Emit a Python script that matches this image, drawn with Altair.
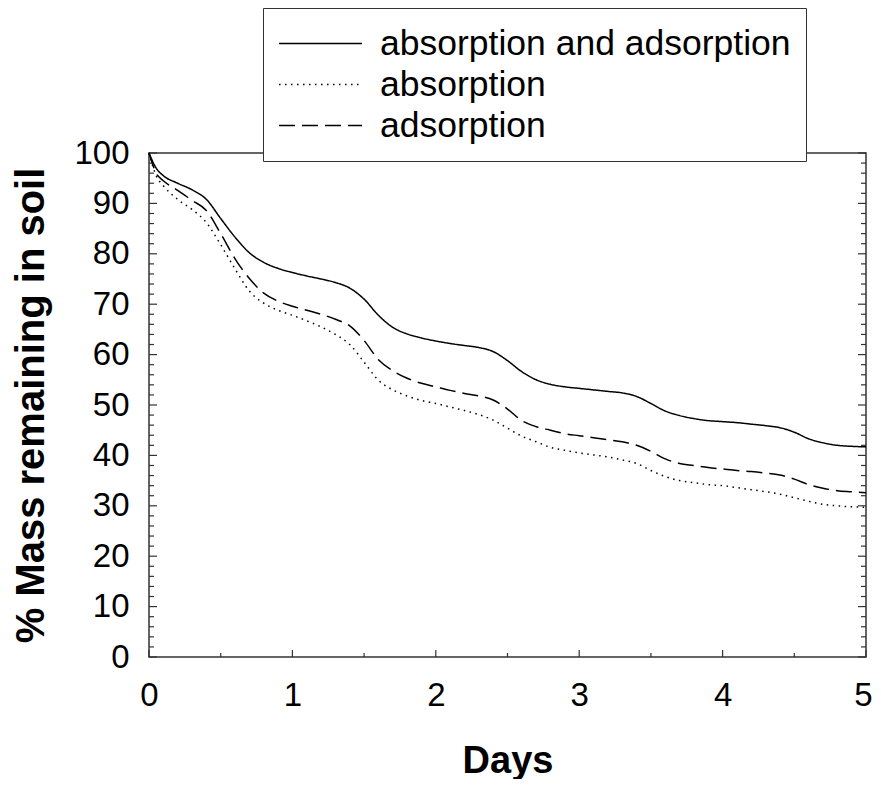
import altair as alt
import pandas as pd

days = [0, 0.05, 0.1, 0.2, 0.3, 0.4, 0.5, 0.6, 0.7, 0.8, 0.9,
        1.0, 1.1, 1.2, 1.3, 1.4, 1.5, 1.6, 1.7, 1.8, 1.9,
        2.0, 2.1, 2.2, 2.3, 2.4, 2.5, 2.6, 2.7, 2.8, 2.9,
        3.0, 3.1, 3.2, 3.3, 3.4, 3.5, 3.6, 3.7, 3.8, 3.9,
        4.0, 4.1, 4.2, 4.3, 4.4, 4.5, 4.6, 4.7, 4.8, 4.9, 5.0]

both = [100, 97.0, 95.5, 94.0, 92.7, 90.8, 87.0, 83.3, 80.2, 78.3, 77.1,
        76.3, 75.6, 75.0, 74.3, 73.2, 71.0, 67.8, 65.4, 64.1, 63.3,
        62.7, 62.2, 61.8, 61.4, 60.6, 58.8, 56.6, 55.0, 54.1, 53.6,
        53.3, 53.0, 52.7, 52.4, 51.7, 50.3, 48.8, 47.9, 47.3, 46.9,
        46.7, 46.5, 46.2, 45.9, 45.5, 44.6, 43.3, 42.5, 42.0, 41.8, 41.7]

absorption = [100, 95.5, 93.5, 90.8, 88.8, 86.2, 81.8, 77.0, 72.6, 70.2, 68.8,
              67.8, 66.7, 65.5, 64.0, 62.0, 58.5, 54.9, 53.0, 51.8, 50.9,
              50.3, 49.6, 48.9, 48.1, 47.0, 45.4, 43.8, 42.7, 41.6, 41.0,
              40.5, 40.1, 39.7, 39.1, 38.4, 37.0, 35.8, 35.0, 34.6, 34.2,
              34.0, 33.6, 33.2, 32.8, 32.3, 31.6, 30.9, 30.3, 30.0, 29.8, 29.7]

adsorption = [100, 96.0, 94.5, 92.6, 90.6, 88.6, 84.0, 79.0, 75.1, 72.2, 70.6,
              69.6, 68.8, 68.0, 67.0, 65.7, 62.8, 59.0, 56.8, 55.3, 54.3,
              53.6, 52.9, 52.3, 51.8, 51.0, 49.2, 46.9, 45.7, 45.0, 44.3,
              43.9, 43.5, 43.1, 42.7, 42.0, 40.8, 39.3, 38.4, 38.0, 37.6,
              37.3, 37.0, 36.8, 36.5, 36.1, 35.3, 34.2, 33.5, 33.0, 32.8, 32.6]

series_names = ["absorption and adsorption", "absorption", "adsorption"]
x_ticks = [0, 1, 2, 3, 4, 5]
y_ticks = [0, 10, 20, 30, 40, 50, 60, 70, 80, 90, 100]

W, H = 717, 504
XMAX, YMAX = 5, 100
FONT = "Liberation Sans"

rows = []
for name, vals in zip(series_names, [both, absorption, adsorption]):
    for d, v in zip(days, vals):
        rows.append({"day": d, "mass": v, "series": name})
df = pd.DataFrame(rows)

# inward tick marks (lengths in pixels converted to data units)
px_x = W / XMAX
px_y = H / YMAX
tick_rows = []
for v in range(0, 101, 2):
    L = 8 if v % 10 == 0 else 5
    tick_rows.append({"x": 0, "x2": L / px_x, "y": v, "y2": v})
    tick_rows.append({"x": XMAX, "x2": XMAX - L / px_x, "y": v, "y2": v})
for i in range(0, 11):
    v = i * 0.5
    L = 7 if i % 2 == 0 else 4
    tick_rows.append({"x": v, "x2": v, "y": 0, "y2": L / px_y})
ticks_df = pd.DataFrame(tick_rows)

xscale = alt.Scale(domain=[0, XMAX], nice=False, zero=False)
yscale = alt.Scale(domain=[0, YMAX], nice=False, zero=False)

x_axis = alt.Axis(values=x_ticks, title="Days", grid=False, ticks=False, domain=False,
                  labelFontSize=33, labelFont=FONT, labelColor="black", labelPadding=22,
                  labelOffset={"condition": {"test": "datum.value == 5", "value": -3}, "value": 0},
                  titleFontSize=38, titleFont=FONT, titleFontWeight="bold", titleColor="black",
                  titlePadding=30, format="d", labelFlush=False)
y_axis = alt.Axis(values=y_ticks, title="% Mass remaining in soil", grid=False, ticks=False,
                  domain=False, labelFontSize=33, labelFont=FONT, labelColor="black",
                  labelPadding=20, titleFontSize=40, titleFont=FONT, titleFontWeight="bold",
                  titleColor="black", titlePadding=22, labelFlush=False)

lines = alt.Chart(df).mark_line(color="black", strokeWidth=1.5, interpolate="monotone").encode(
    x=alt.X("day:Q", scale=xscale, axis=x_axis),
    y=alt.Y("mass:Q", scale=yscale, axis=y_axis),
    strokeDash=alt.StrokeDash(
        "series:N",
        scale=alt.Scale(domain=series_names, range=[[1, 0], [1.5, 4.5], [16, 7]]),
        legend=alt.Legend(orient="none", legendX=114, legendY=-145, title=None,
                          symbolType="stroke", symbolSize=6889, symbolStrokeWidth=1.5,
                          symbolStrokeColor="black", symbolOffset=0, clipHeight=41,
                          labelFontSize=35.5, labelFont=FONT,
                          labelColor="black", labelOffset=17, rowPadding=0, padding=15,
                          fillColor="white", strokeColor="#333", labelLimit=700),
    ),
    detail="series:N",
)

tick_marks = alt.Chart(ticks_df).mark_rule(color="#333", strokeWidth=1.2).encode(
    x=alt.X("x:Q", scale=xscale), x2="x2:Q",
    y=alt.Y("y:Q", scale=yscale), y2="y2:Q",
)

chart = alt.layer(tick_marks, lines).properties(
    width=W, height=H,
    autosize=alt.AutoSizeParams(type="none"),
    padding={"left": 141, "top": 145, "right": 7, "bottom": 122},
).configure(background="white").configure_view(stroke="#333", strokeWidth=1.5)

chart.save("out.html", embed_options={"renderer": "svg", "actions": False})
